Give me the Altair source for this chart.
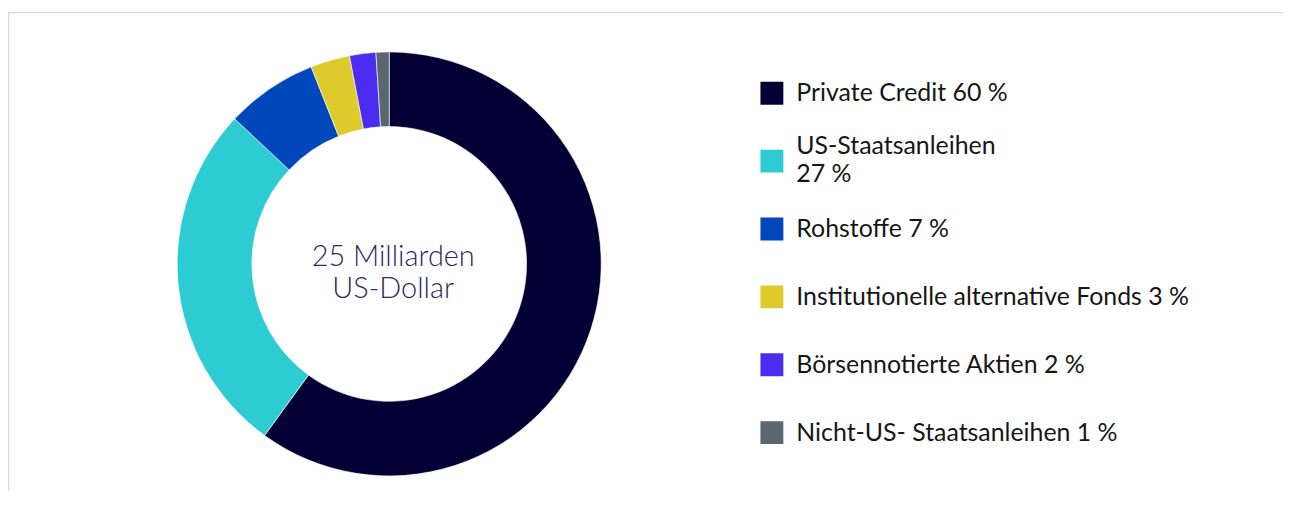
import altair as alt
import pandas as pd

# ---- data ----
CATEGORIES = [
    "Private Credit",
    "US-Staatsanleihen",
    "Rohstoffe",
    "Institutionelle alternative Fonds",
    "Börsennotierte Aktien",
    "Nicht-US- Staatsanleihen",
]
SHARES = [60, 27, 7, 3, 2, 1]
LEGEND_LABELS = [
    "Private Credit 60 %",
    "US-Staatsanleihen\n27 %",
    "Rohstoffe 7 %",
    "Institutionelle alternative Fonds 3 %",
    "Börsennotierte Aktien 2 %",
    "Nicht-US- Staatsanleihen 1 %",
]
COLORS = ["#040036", "#2dccd3", "#0047bb", "#dfca2b", "#4b2cf0", "#5a6670"]
CENTER_TEXT = "25 Milliarden\nUS-Dollar"

df = pd.DataFrame({
    "category": CATEGORIES,
    "share": SHARES,
    "label": LEGEND_LABELS,
    "order": list(range(len(CATEGORIES))),
})

W, H = 1281, 484
CX, CY = 383, 256
FRAME = "#d2dae2"

legend = alt.Legend(
    title=None,
    orient="none",
    legendX=755,
    legendY=55.5,
    symbolType="square",
    symbolSize=529,
    symbolStrokeWidth=0,
    labelFont="Lato",
    labelFontSize=25,
    labelColor="#161616",
    labelLimit=700,
    labelExpr="split(datum.label, '\\n')",
    labelBaseline=alt.ExprRef(
        expr="indexof(datum.value, '\\n') >= 0 ? 'line-bottom' : 'middle'"
    ),
    clipHeight=58,
    rowPadding=10.2,
    labelOffset=12,
    padding=0,
)

arc = alt.Chart(df).mark_arc(
    outerRadius=213, innerRadius=138, stroke="#ffffff", strokeWidth=0.6
).encode(
    theta=alt.Theta("share:Q", stack=True),
    order=alt.Order("order:Q"),
    color=alt.Color(
        "label:N",
        scale=alt.Scale(domain=LEGEND_LABELS, range=COLORS),
        legend=legend,
    ),
    x=alt.value(CX),
    y=alt.value(CY),
)

center = alt.Chart(pd.DataFrame({"t": [CENTER_TEXT]})).mark_text(
    font="Lato",
    fontWeight=300,
    fontSize=29,
    color="#2a2960",
    lineBreak="\n",
    lineHeight=31.5,
    align="center",
    baseline="alphabetic",
).encode(text="t:N", x=alt.value(CX + 4), y=alt.value(258.5))

frame_src = pd.DataFrame({"a": [0]})
top_rule = alt.Chart(frame_src).mark_rule(color=FRAME, strokeWidth=1.3).encode(
    x=alt.value(0), x2=alt.value(W), y=alt.value(3.5)
)
left_rule = alt.Chart(frame_src).mark_rule(color=FRAME, strokeWidth=1.3).encode(
    x=alt.value(0.5), y=alt.value(3), y2=alt.value(H)
)

chart = alt.layer(top_rule, left_rule, arc, center).properties(
    width=W,
    height=H,
    padding=0,
    autosize=alt.AutoSizeParams(type="none"),
).configure(
    view={"stroke": None},
    style={"guide-label": {"lineHeight": 28.4}},
)

chart.save("out.html", embed_options={"renderer": "svg", "actions": False})
